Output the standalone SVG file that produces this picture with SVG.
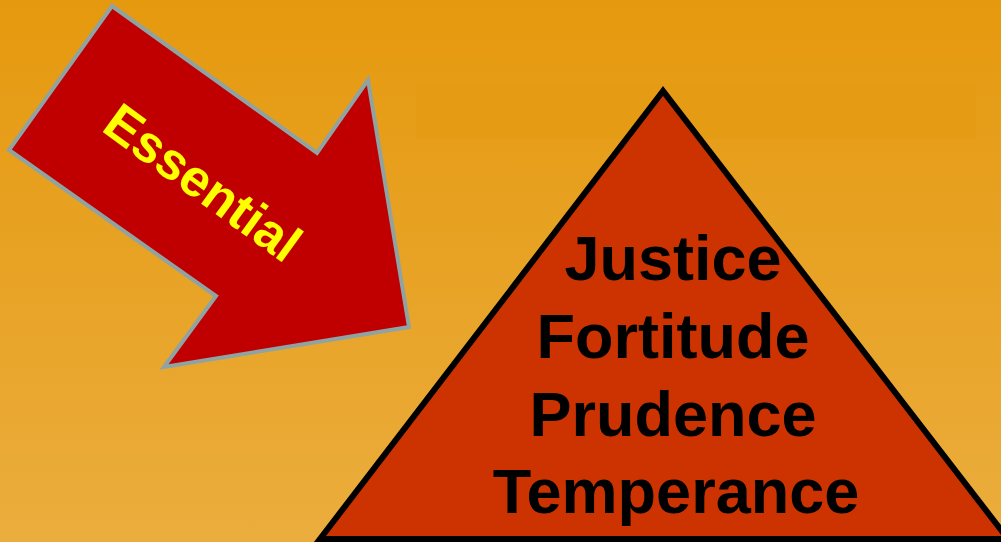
<svg xmlns="http://www.w3.org/2000/svg" width="1001" height="542" viewBox="0 0 1001 542">
<defs>
<linearGradient id="bg" x1="0" y1="0" x2="0" y2="1">
<stop offset="0" stop-color="#E5990E"/>
<stop offset="1" stop-color="#EBAD3D"/>
</linearGradient>
<style>
.virtue{font-family:"Liberation Sans",Arial,sans-serif;font-weight:bold;font-size:63px;fill:#000;text-anchor:middle}
.label{font-family:"Liberation Sans",Arial,sans-serif;font-weight:bold;font-size:52px;fill:#FFFF00}
</style>
</defs>
<rect x="0" y="0" width="1001" height="542" fill="url(#bg)"/>
<rect x="416" y="83" width="560" height="56" fill="#E39A10" opacity="0.5"/>
<g id="arrow">
<polygon points="112,6 317,153 368,80 409,327 164,367 216,296 9,150" fill="#C00000" stroke="#8FA3A3" stroke-width="4" stroke-linejoin="miter"/>
<text class="label" transform="translate(100,130) rotate(36)">Essential</text>
</g>
<g id="pyramid">
<polygon points="663,91 320,539 1008,539" fill="#CC3300" stroke="#000" stroke-width="6" stroke-linejoin="miter"/>
<text class="virtue" x="673" y="280">Justice</text>
<text class="virtue" x="673" y="358">Fortitude</text>
<text class="virtue" x="673" y="436">Prudence</text>
<text class="virtue" x="676" y="513">Temperance</text>
</g>
<g id="connectors"/>
</svg>
